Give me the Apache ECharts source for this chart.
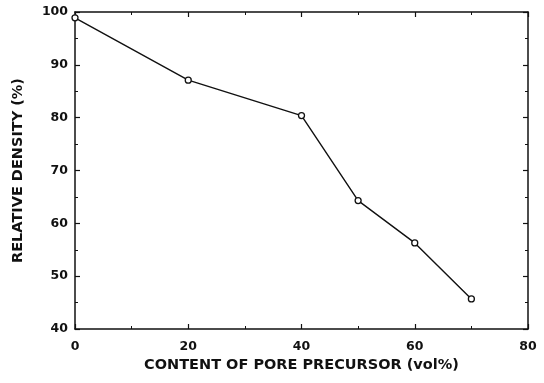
<!DOCTYPE html>
<html>
<head>
<meta charset="utf-8">
<script src="https://cdn.jsdelivr.net/npm/echarts@6/dist/echarts.min.js"></script>
<style>
  html, body { margin: 0; padding: 0; background: #fff; }
  #chart { width: 544px; height: 383px; }
</style>
</head>
<body>
<div id="chart"></div>
<script>
// pore precursor content (vol%) and relative density (%)
const poreContent = [0, 20, 40, 50, 60, 70]
const relDensity = [98.9, 87.1, 80.4, 64.3, 56.3, 45.7]

const xTicks = { min: 0, max: 80, interval: 20 }
const yTicks = { min: 40, max: 100, interval: 10 }

const font = 'DejaVu Sans, Arial, sans-serif'
const ink = '#111'

function frameAxis(base, showLabels) {
  return {
    type: 'value',
    ...base,
    axisLine: { show: true, onZero: false, lineStyle: { color: ink, width: 1.5 } },
    axisTick: { show: true, inside: true, length: 5, lineStyle: { color: ink, width: 1.2 } },
    minorTick: { show: true, splitNumber: 2, length: 3, lineStyle: { color: ink, width: 1 } },
    splitLine: { show: false },
    axisLabel: {
      show: showLabels,
      color: ink,
      fontFamily: font,
      fontWeight: 'bold',
      fontSize: 12.5,
    },
  }
}

const titleStyle = { color: ink, fontFamily: font, fontWeight: 'bold', fontSize: 14.5 }

const chart = echarts.init(document.getElementById('chart'))
chart.setOption({
  animation: false,
  backgroundColor: '#fff',
  grid: { left: 75, right: 16, top: 12, bottom: 54 },
  xAxis: [
    {
      ...frameAxis(xTicks, true),
      position: 'bottom',
      name: 'CONTENT OF PORE PRECURSOR (vol%)',
      nameLocation: 'middle',
      nameGap: 29,
      nameTextStyle: titleStyle,
      axisLabel: { ...frameAxis(xTicks, true).axisLabel, margin: 11 },
    },
    { ...frameAxis(xTicks, false), position: 'top' },
  ],
  yAxis: [
    {
      ...frameAxis(yTicks, true),
      position: 'left',
      name: 'RELATIVE DENSITY (%)',
      nameLocation: 'middle',
      nameGap: 49,
      nameTextStyle: titleStyle,
      axisLabel: { ...frameAxis(yTicks, true).axisLabel, margin: 7 },
    },
    { ...frameAxis(yTicks, false), position: 'right' },
  ],
  series: [
    {
      type: 'line',
      data: poreContent.map((x, i) => [x, relDensity[i]]),
      symbol: 'circle',
      symbolSize: 6,
      itemStyle: { color: '#fff', borderColor: ink, borderWidth: 1.3 },
      lineStyle: { color: ink, width: 1.4 },
    },
  ],
})
</script>
</body>
</html>
